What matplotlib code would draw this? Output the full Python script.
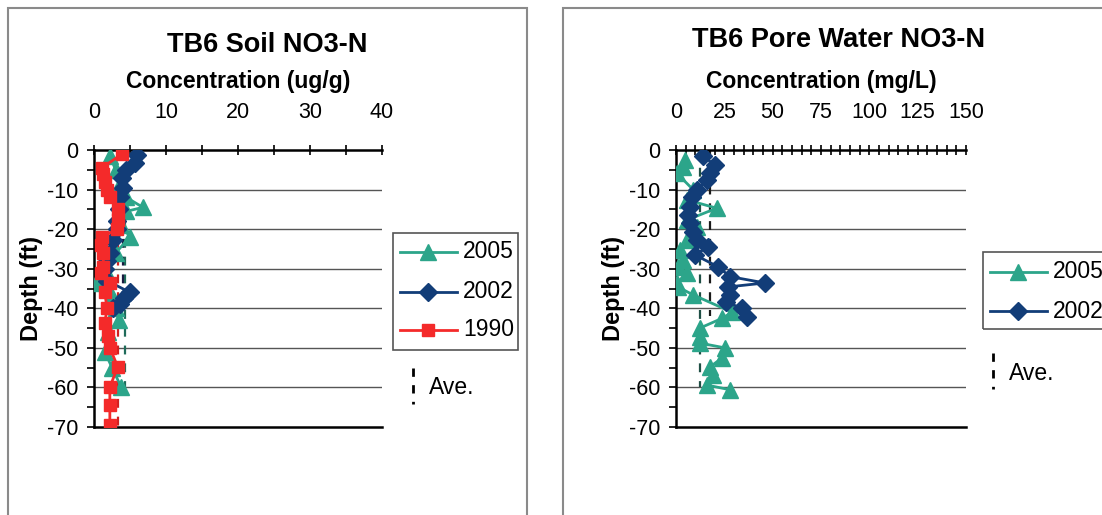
import numpy as np
import matplotlib.pyplot as plt
from matplotlib.patches import Rectangle
from matplotlib.lines import Line2D
from matplotlib.ticker import MultipleLocator

plt.rcParams['font.family'] = ['Liberation Sans', 'DejaVu Sans']
plt.rcParams['axes.unicode_minus'] = False

# ---------- data: soil NO3-N (ug/g) ----------
soil_2005_depth = [-1.5, -5, -9, -12, -14.5, -15.5, -19, -22, -26, -30, -33.5, -37, -40, -43, -46, -51, -55, -60]
soil_2005_conc = [2.2, 3.0, 3.5, 4.5, 6.8, 4.5, 3.8, 5.0, 3.0, 1.5, 0.3, 2.5, 3.0, 3.5, 2.0, 1.5, 2.5, 3.8]

soil_2002_depth = [-1.3, -3.3, -5, -7, -9.5, -12, -15, -18, -20, -22.7, -26, -28, -30, -33, -36, -37.5, -39, -40]
soil_2002_conc = [6.0, 5.7, 4.5, 3.9, 4.0, 3.6, 3.5, 3.2, 3.2, 2.6, 2.2, 1.8, 1.5, 1.8, 5.0, 4.2, 3.6, 2.6]

soil_1990_depth = [-1, -4.5, -6, -8, -10, -12, -15, -17.7, -20, -22, -24, -26, -29.5, -31, -33.6, -36,
                   -40, -43.8, -47, -50, -54.8, -59.9, -64.5, -69.5]
soil_1990_conc = [3.9, 1.1, 1.3, 1.5, 1.8, 2.2, 3.3, 3.3, 3.2, 1.1, 1.0, 1.3, 1.3, 1.0, 2.2, 1.5,
                  1.8, 1.5, 2.0, 2.2, 3.3, 2.2, 2.2, 2.2]

soil_ave = {'2005': (4.3, -60), '2002': (4.0, -40), '1990': (3.3, -70)}

# ---------- data: pore water NO3-N (mg/L) ----------
pore_2005_depth = [-2.5, -4.2, -5.9, -10, -12.6, -14.7, -17.7, -19.4, -22.7, -25.3, -27.8, -29.5, -31, -33.6,
                   -34.6, -36.6, -41, -42.5, -45, -47.2, -48.8, -50, -52.5, -54.8, -56.9, -59.4, -60.6]
pore_2005_conc = [4.7, 3.6, 0.5, 8.8, 5.7, 21, 5.7, 10.9, 5.7, 2, 3.6, 1, 5.7, 0.5,
                  1, 8.8, 29, 24, 12.4, 12.4, 12.4, 25.3, 24, 17.6, 19, 16, 28]

pore_2002_depth = [-1.5, -3.8, -5.9, -7.6, -10, -11.8, -14.3, -16.5, -18.5, -20.7, -22.7, -24.5, -26.5,
                   -29.5, -32, -33.6, -34.6, -36.6, -38.4, -40, -42.2]
pore_2002_conc = [14, 20, 17.6, 16, 10.9, 8.3, 7.2, 6.2, 7.2, 8.8, 10.9, 16.5, 9.8,
                  21.7, 28, 46, 27, 28, 26, 34, 36.6]

pore_ave = {'2005': (12.4, -60), '2002': (17.6, -42)}

C2005 = '#2ca58a'
C2002 = '#123d78'
C1990 = '#f42a2a'

W, H = 1102, 515
fig = plt.figure(figsize=(W / 100, H / 100), dpi=100)


def fx(px):
    return px / W


def fy(py):
    return 1 - py / H


# chart frames
fig.patches.append(Rectangle((fx(8), fy(540)), fx(519), fy(8) - fy(540), transform=fig.transFigure,
                             fill=False, edgecolor='#8a8a8a', linewidth=1.5))
fig.patches.append(Rectangle((fx(563), fy(540)), fx(560), fy(8) - fy(540), transform=fig.transFigure,
                             fill=False, edgecolor='#8a8a8a', linewidth=1.5))


def style_axis(ax, xmax, xmajor, xminor):
    ax.set_xlim(0, xmax)
    ax.set_ylim(-70, 0)
    ax.xaxis.tick_top()
    ax.xaxis.set_label_position('top')
    ax.xaxis.set_major_locator(MultipleLocator(xmajor))
    ax.xaxis.set_minor_locator(MultipleLocator(xminor))
    ax.yaxis.set_major_locator(MultipleLocator(10))
    ax.yaxis.set_minor_locator(MultipleLocator(5))
    ax.tick_params(axis='x', which='both', direction='inout', length=7, width=1.2, pad=16, labelsize=15.5)
    ax.tick_params(axis='y', which='both', direction='out', length=5, width=1.2, pad=6, labelsize=15.5)
    ax.tick_params(axis='x', which='minor', labelsize=0)
    ax.spines['right'].set_visible(False)
    for s in ['top', 'left', 'bottom']:
        ax.spines[s].set_linewidth(1.8)
        ax.spines[s].set_color('black')
    for d in range(-60, 0, 10):
        ax.axhline(d, color='#555555', linewidth=1.0, zorder=0)
    ax.set_ylabel('Depth (ft)', fontsize=17, fontweight='bold', labelpad=3)


# ---------- left chart ----------
ax1 = fig.add_axes([fx(94), fy(427), fx(288), fy(150) - fy(427)])
style_axis(ax1, 40, 10, 5)
ax1.set_xlabel('Concentration (ug/g)', fontsize=16.5, fontweight='bold', labelpad=10)
for key, color in [('2005', '#1f6b5a'), ('2002', '#1a1a40'), ('1990', '#d02020')]:
    v, bottom = soil_ave[key]
    ax1.plot([v, v], [0, bottom], color=color, linestyle=(0, (4, 4)), linewidth=1.6, zorder=1)
ax1.plot(soil_2005_conc, soil_2005_depth, color=C2005, marker='^', markersize=11, linewidth=2, zorder=3)
ax1.plot(soil_2002_conc, soil_2002_depth, color=C2002, marker='D', markersize=9, linewidth=2, zorder=4)
ax1.plot(soil_1990_conc, soil_1990_depth, color=C1990, marker='s', markersize=9, linewidth=2, zorder=5)
fig.text(fx(267), fy(45), 'TB6 Soil NO3-N', fontsize=19.5, fontweight='bold', ha='center', va='center')

# ---------- right chart ----------
ax2 = fig.add_axes([fx(676), fy(427), fx(290), fy(150) - fy(427)])
style_axis(ax2, 150, 25, 5)
ax2.set_xlabel('Concentration (mg/L)', fontsize=16.5, fontweight='bold', labelpad=10)
for key, color in [('2005', '#1f4f45'), ('2002', '#1a1a1a')]:
    v, bottom = pore_ave[key]
    ax2.plot([v, v], [0, bottom], color=color, linestyle=(0, (4, 4)), linewidth=1.6, zorder=1)
ax2.plot(pore_2005_conc, pore_2005_depth, color=C2005, marker='^', markersize=11, linewidth=2, zorder=3)
ax2.plot(pore_2002_conc, pore_2002_depth, color=C2002, marker='D', markersize=9, linewidth=2, zorder=4)
fig.text(fx(839), fy(40), 'TB6 Pore Water NO3-N', fontsize=19.5, fontweight='bold', ha='center', va='center')


# ---------- legends ----------
def legend_box(x0, y0, x1, y1, entries, ave_x, ave_y):
    fig.patches.append(Rectangle((fx(x0), fy(y1)), fx(x1 - x0), fy(y0) - fy(y1), transform=fig.transFigure,
                                 fill=False, edgecolor='#555555', linewidth=1.2))
    for (label, color, marker, ms), yy in entries:
        fig.lines.append(Line2D([fx(x0 + 7), fx(x0 + 64)], [fy(yy), fy(yy)], transform=fig.transFigure,
                                color=color, linewidth=2))
        fig.lines.append(Line2D([fx(x0 + 35)], [fy(yy)], transform=fig.transFigure, color=color,
                                marker=marker, markersize=ms))
        fig.text(fx(x0 + 70), fy(yy), label, fontsize=16.5, ha='left', va='center')
    fig.lines.append(Line2D([fx(ave_x), fx(ave_x)], [fy(ave_y - 18), fy(ave_y + 18)],
                            transform=fig.transFigure, color='black', linewidth=2, linestyle=(0, (3, 3))))
    fig.text(fx(ave_x + 16), fy(ave_y + 2), 'Ave.', fontsize=16.5, ha='left', va='center')


legend_box(393, 233, 518, 350,
           [(('2005', C2005, '^', 11), 252), (('2002', C2002, 'D', 9), 292), (('1990', C1990, 's', 9), 330)],
           413, 386)
legend_box(983, 252, 1110, 329,
           [(('2005', C2005, '^', 11), 272), (('2002', C2002, 'D', 9), 311)],
           993, 371)

fig.savefig('out.png', dpi=100)
